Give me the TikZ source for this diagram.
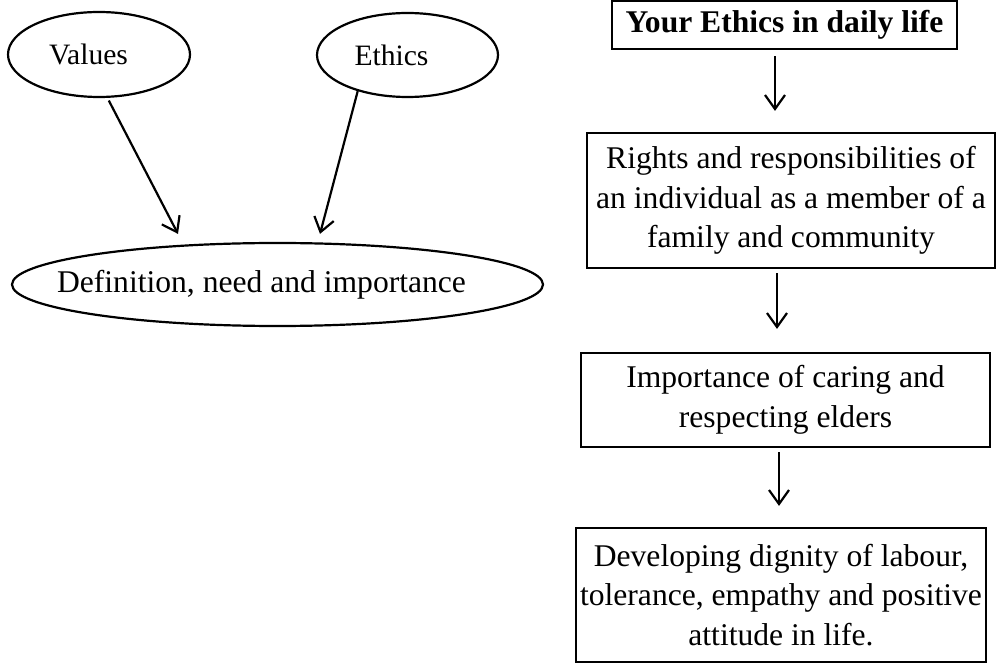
\documentclass[tikz,border=0pt]{standalone}
\usepackage{fontspec}
\setmainfont{Liberation Serif}
\usetikzlibrary{arrows.meta,shapes.geometric}

\begin{document}
\begin{tikzpicture}[x=0.5pt,y=-0.5pt,line width=1.1pt,
        oval/.style={draw,ellipse,inner sep=0pt,font=\fontsize{14.8}{17}\selectfont},
        topic/.style={draw,rectangle,align=center,inner sep=0pt,font=\fontsize{15.8}{19.8}\selectfont},
        flow/.style={-{Straight Barb[length=7pt,width=10pt]},shorten <=2pt,shorten >=10.5pt}]
    \useasboundingbox (0,0) rectangle (996,663);
    % left part
    \node[oval,minimum width=91pt,minimum height=42.5pt] (values) at (99,54.5)
        {\makebox[0pt]{\hspace*{-10.5pt}Values}};
    \node[oval,minimum width=90.5pt,minimum height=42pt] (ethics) at (407.5,55)
        {\makebox[0pt]{\hspace*{-16pt}Ethics}};
    \node[oval,minimum width=265.5pt,minimum height=41.5pt,font=\fontsize{15.8}{19.8}\selectfont] (defn) at (277.5,284.5)
        {\makebox[0pt]{\hspace*{-16pt}Definition, need and importance}};
    \draw[flow,shorten <=1.5pt,shorten >=0pt] (values.-79) -- ([xshift=-49.75pt,yshift=4pt]defn.north);
    \draw[flow,shorten <=0pt,shorten >=0pt] (ethics.216) -- ([xshift=21.25pt,yshift=4pt]defn.north);
    % right part
    \node[topic,minimum width=172.5pt,minimum height=24pt,font=\bfseries\fontsize{15.8}{19.8}\selectfont] (title) at (784.5,25)
        {Your Ethics in daily life};
    \node[topic,minimum width=204pt,minimum height=67.5pt] (rights) at (791,200.5)
        {Rights and responsibilities of\\an individual as a member of a\\family and community};
    \node[topic,minimum width=204.5pt,minimum height=47pt] (caring) at (785.5,400)
        {Importance of caring and\\respecting elders};
    \node[topic,minimum width=205pt,minimum height=67pt] (labour) at (781,595)
        {Developing dignity of labour,\\tolerance, empathy and positive\\attitude in life.};
    \draw[flow,shorten <=3pt] ([xshift=-4.75pt]title.south) -- ([xshift=-4.75pt]title.south |- rights.north);
    \draw[flow,shorten >=11.5pt] ([xshift=-7pt]rights.south) -- ([xshift=-7pt]rights.south |- caring.north);
    \draw[flow] ([xshift=-3.25pt]caring.south) -- ([xshift=-3.25pt]caring.south |- labour.north);
\end{tikzpicture}
\end{document}
